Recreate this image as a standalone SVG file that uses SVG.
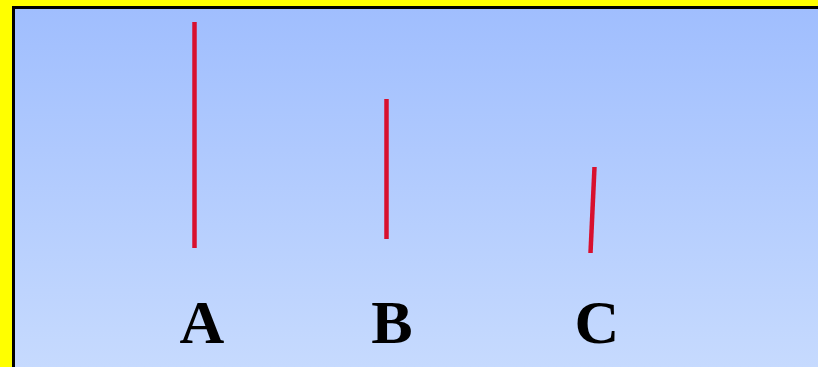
<svg xmlns="http://www.w3.org/2000/svg" width="818" height="367" viewBox="0 0 818 367">
<defs>
<linearGradient id="bg" x1="0" y1="0" x2="0" y2="1">
<stop offset="0" stop-color="#A0BEFE"/>
<stop offset="1" stop-color="#C6DAFE"/>
</linearGradient>
<style>
.stick{stroke:#D8102E;stroke-width:4.5;fill:none}
.lbl{font-family:"Liberation Serif",serif;font-weight:bold;font-size:62px;fill:#000;text-anchor:middle}
</style>
</defs>
<rect x="0" y="0" width="818" height="367" fill="#FFFF00"/>
<rect x="12" y="6" width="806" height="361" fill="#000"/>
<rect x="15" y="9" width="803" height="358" fill="url(#bg)"/>
<g id="connectors">
<line id="lineA" class="stick" x1="194.5" y1="22" x2="194.5" y2="248"/>
<line id="lineB" class="stick" x1="386.5" y1="99" x2="386.5" y2="239"/>
<line id="lineC" class="stick" x1="594.5" y1="167" x2="590.5" y2="253"/>
</g>
<g id="labelA"><text class="lbl" x="202" y="343">A</text></g>
<g id="labelB"><text class="lbl" x="392" y="343">B</text></g>
<g id="labelC"><text class="lbl" x="597" y="343">C</text></g>
</svg>
